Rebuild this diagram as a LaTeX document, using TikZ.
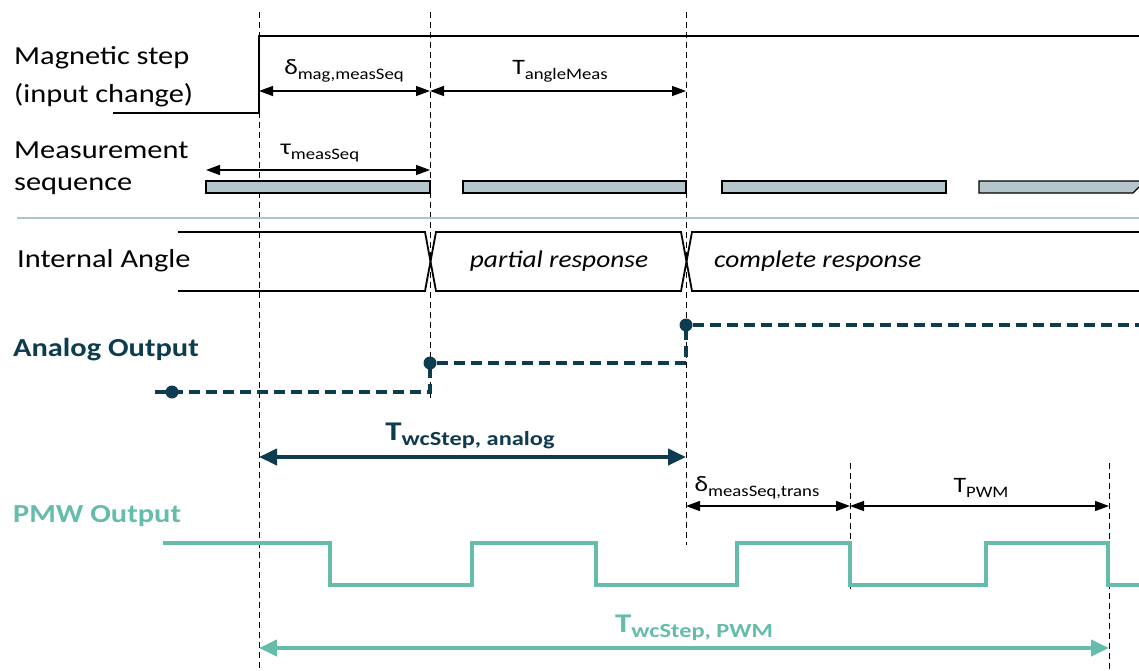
\documentclass[tikz,border=0pt]{standalone}
\usepackage{fontspec}
\usepackage{graphicx}
\setmainfont{Carlito}
\usetikzlibrary{arrows.meta}
\definecolor{anadark}{RGB}{13,59,79}
\definecolor{pwmteal}{RGB}{102,188,170}
\definecolor{barfill}{RGB}{180,198,204}
\definecolor{sepline}{RGB}{176,196,204}
% widened lettering
\newcommand{\wide}[2][1.17]{\scalebox{#1}[1]{#2}}
% symbol with lowered subscript
\newcommand{\lbl}[2]{\wide{\fontsize{22}{22}\selectfont #1\raisebox{-0.45ex}{\fontsize{16}{16}\selectfont #2}}}
\newcommand{\blbl}[2]{\wide[1.22]{\bfseries\fontsize{27}{27}\selectfont #1\raisebox{-0.4ex}{\fontsize{20}{20}\selectfont #2}}}
\tikzset{
  guide/.style={black, line width=0.8pt, dash pattern=on 6pt off 4pt},
  sig/.style={black, line width=2.8pt},
  wave/.style={black, line width=1.8pt},
  dim/.style={black, line width=1.4pt, {Triangle[length=14pt,width=10pt]}-{Triangle[length=14pt,width=10pt]}},
  bigdim/.style={line width=4pt, {Triangle[length=18pt,width=16pt]}-{Triangle[length=18pt,width=16pt]}},
  txt/.style={anchor=west, inner sep=0pt, font=\fontsize{26}{26}\selectfont},
  dimtxt/.style={inner sep=0pt},
  seqbar/.style={draw=black, fill=barfill, line width=1.2pt},
  ana/.style={anadark, line width=3.6pt, dash pattern=on 11pt off 6pt},
  anadot/.style={circle, fill=anadark, inner sep=0pt, minimum size=13pt},
  pwm/.style={pwmteal, line width=4pt}
}
\begin{document}
\begin{tikzpicture}[x=1pt,y=-1pt]
\useasboundingbox (0,0) rectangle (1139,670);

% time markers
\coordinate (ga1) at (259,12);  \coordinate (gb1) at (259,670);
\coordinate (ga2) at (430,12);  \coordinate (gb2) at (430,400);
\coordinate (ga3) at (686,12);  \coordinate (gb3) at (686,545);
\coordinate (ga4) at (850,463); \coordinate (gb4) at (850,590);
\coordinate (ga5) at (1109,463);\coordinate (gb5) at (1109,670);
\draw[guide] (ga1) -- (gb1);
\draw[guide] (ga2) -- (gb2);
\draw[guide] (ga3) -- (gb3);
\draw[guide] (ga4) -- (gb4);
\draw[guide] (ga5) -- (gb5);

% signal labels
\node[txt] (lmag1) at (14,58) {\wide{Magnetic step}};
\node[txt] (lmag2) at (14,95) {\wide{(input change)}};
\node[txt] (lmeas1) at (14,150) {\wide{Measurement}};
\node[txt] (lmeas2) at (14,186) {\wide{sequence}};
\node[txt] (lang) at (17,261) {\wide{Internal Angle}};
\node[txt, text=anadark, font=\fontsize{26}{26}\selectfont\bfseries] (lana) at (13,350) {\wide{Analog Output}};
\node[txt, text=pwmteal, font=\fontsize{26}{26}\selectfont\bfseries] (lpwm) at (13,516) {\wide{PMW Output}};

% magnetic step
\coordinate (m0) at (113,113);
\coordinate (m1) at (259,113);
\coordinate (m2) at (259,36);
\coordinate (m3) at (1139,36);
\draw[sig] (m0) -- (m1) -- (m2) -- (m3);

% timing spans on the step
\coordinate (d1a) at (259,91); \coordinate (d1b) at (430,91);
\coordinate (d2a) at (430,91); \coordinate (d2b) at (686,91);
\draw[dim] (d1a) -- (d1b);
\draw[dim] (d2a) -- (d2b);
\node[dimtxt] (tdmag) at (344,71) {\lbl{δ}{mag,measSeq}};
\node[dimtxt] (tang) at (560,71) {\lbl{T}{angleMeas}};

% measurement sequence
\coordinate (d3a) at (206,170); \coordinate (d3b) at (430,170);
\draw[dim] (d3a) -- (d3b);
\node[dimtxt] (ttau) at (320,153) {\lbl{τ}{measSeq}};
\draw[seqbar] (206,181) rectangle (430,193);
\draw[seqbar] (463,181) rectangle (686,193);
\draw[seqbar] (722,181) rectangle (946,193);
\fill[barfill] (979,181) -- (1139,181) -- (1139,187) -- (1133,193) -- (979,193) -- cycle;
\draw[black, line width=1.2pt] (1139,181) -- (979,181) -- (979,193) -- (1133,193) -- (1139,187);

% separator
\coordinate (s0) at (17,218); \coordinate (s1) at (1139,218);
\draw[sepline, line width=1.6pt] (s0) -- (s1);

% internal angle bus
\draw[wave] (178,232) -- (425,232) -- (436,291) -- (681,291) -- (692,232) -- (1139,232);
\draw[wave] (178,291) -- (425,291) -- (436,232) -- (681,232) -- (692,291) -- (1139,291);
\node[dimtxt, font=\fontsize{24}{24}\selectfont\itshape] (tpart) at (559,261) {\wide[1.14]{partial response}};
\node[dimtxt, anchor=west, font=\fontsize{24}{24}\selectfont\itshape] (tcomp) at (714,261) {\wide[1.14]{complete response}};

% analog output
\node[anadot] (a0) at (172,392) {};
\node[anadot] (a1) at (430,363) {};
\node[anadot] (a2) at (686,325) {};
\coordinate (as) at (155,392);
\coordinate (ak1) at (430,392);
\coordinate (ak2) at (686,363);
\coordinate (ae) at (1139,325);
\draw[ana] (as) -- (ak1) -- (a1.center);
\draw[ana] (a1) -- (ak2) -- (a2.center);
\draw[ana] (a2) -- (ae);
\coordinate (wa1) at (259,457); \coordinate (wa2) at (686,457);
\draw[bigdim, anadark] (wa1) -- (wa2);
\node[dimtxt, text=anadark] (twa) at (470,436) {\blbl{T}{wcStep, analog}};

% PWM spans
\coordinate (d4a) at (686,506); \coordinate (d4b) at (850,506);
\coordinate (d5a) at (850,506); \coordinate (d5b) at (1109,506);
\draw[dim] (d4a) -- (d4b);
\draw[dim] (d5a) -- (d5b);
\node[dimtxt] (tdtr) at (757,488) {\lbl{δ}{measSeq,trans}};
\node[dimtxt] (tpwm) at (981,488) {\lbl{T}{PWM}};

% PWM output
\draw[pwm] (163,543) -- (330,543) -- (330,585) -- (472,585) -- (472,543) -- (596,543)
  -- (596,585) -- (737,585) -- (737,543) -- (850,543) -- (850,585) -- (986,585)
  -- (986,543) -- (1108,543) -- (1108,585) -- (1139,585);
\coordinate (wp1) at (259,648); \coordinate (wp2) at (1109,648);
\draw[bigdim, pwmteal] (wp1) -- (wp2);
\node[dimtxt, text=pwmteal] (twp) at (694,628) {\blbl{T}{wcStep, PWM}};
\end{tikzpicture}
\end{document}
